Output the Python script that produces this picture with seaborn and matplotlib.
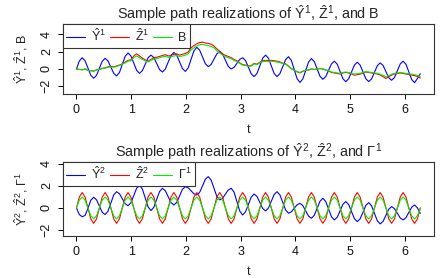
import numpy as np
import pandas as pd
import seaborn as sns
from matplotlib import pyplot as plt

# time grid: 121 points over [0, 2*pi]
t = np.linspace(0, 2 * np.pi, 121)

# top panel: Y-hat^1, Z-hat^1, B
y1_hat = [0.0, 0.92, 1.3, 0.95, 0.12, -0.72, -1.07, -0.73, 0.08, 0.89,
          1.23, 0.93, 0.22, -0.5, -0.8, -0.41, 0.53, 1.46, 1.85, 1.51,
          0.68, -0.16, -0.5, -0.19, 0.55, 1.29, 1.6, 1.32, 0.63, -0.07,
          -0.35, -0.02, 0.78, 1.57, 1.9, 1.58, 0.81, 0.04, -0.28, 0.13,
          1.11, 2.09, 2.5, 2.17, 1.39, 0.6, 0.27, 0.52, 1.14, 1.75,
          2.0, 1.71, 1.0, 0.29, 0.0, 0.19, 0.65, 1.11, 1.3, 0.98,
          0.21, -0.56, -0.88, -0.52, 0.36, 1.24, 1.6, 1.24, 0.36, -0.52,
          -0.88, -0.54, 0.27, 1.08, 1.42, 0.99, -0.07, -1.12, -1.55, -1.15,
          -0.18, 0.8, 1.2, 0.85, 0.0, -0.84, -1.19, -0.88, -0.15, 0.59,
          0.9, 0.56, -0.28, -1.12, -1.46, -1.13, -0.34, 0.45, 0.78, 0.45,
          -0.34, -1.13, -1.46, -1.14, -0.38, 0.38, 0.7, 0.41, -0.3, -1.01,
          -1.3, -0.98, -0.2, 0.58, 0.9, 0.54, -0.34, -1.22, -1.58, -1.1,
          -0.55]
z1_hat = [0.0, -0.05, -0.1, 0.02, -0.15, -0.2, -0.25, -0.1, -0.05, 0.08,
          0.12, 0.25, 0.3, 0.25, 0.35, 0.45, 0.6, 0.8, 1.0, 1.05,
          1.5, 1.75, 1.5, 1.25, 1.05, 0.9, 1.1, 1.3, 1.35, 1.45,
          1.55, 1.65, 1.5, 1.55, 1.7, 1.75, 1.6, 1.7, 1.8, 1.95,
          2.45, 2.7, 2.9, 3.05, 3.1, 3.0, 2.95, 2.85, 2.65, 2.3,
          2.05, 1.75, 1.55, 1.45, 1.3, 1.1, 0.95, 0.7, 0.5, 0.45,
          0.35, 0.4, 0.65, 0.55, 0.78, 0.95, 1.0, 0.95, 1.0, 0.95,
          0.9, 0.82, 0.66, 0.6, 0.33, 0.05, -0.18, -0.33, -0.45, -0.28,
          -0.17, -0.12, 0.0, -0.06, 0.0, 0.05, 0.0, -0.12, -0.23, -0.4,
          -0.46, -0.52, -0.58, -0.46, -0.4, -0.46, -0.58, -0.72, -0.65, -0.6,
          -0.46, -0.35, -0.4, -0.46, -0.52, -0.58, -0.7, -0.88, -1.1, -0.88,
          -0.7, -0.58, -0.52, -0.46, -0.52, -0.58, -0.64, -0.7, -0.76, -0.88,
          -1.05]
b_path = [0.0, -0.05, -0.1, 0.0, -0.15, -0.2, -0.25, -0.1, -0.05, 0.05,
          0.1, 0.2, 0.25, 0.2, 0.3, 0.4, 0.55, 0.7, 0.9, 0.95,
          1.3, 1.5, 1.3, 1.1, 0.95, 0.8, 1.0, 1.15, 1.2, 1.3,
          1.4, 1.45, 1.35, 1.4, 1.5, 1.55, 1.45, 1.5, 1.6, 1.75,
          2.2, 2.45, 2.65, 2.8, 2.85, 2.75, 2.7, 2.6, 2.45, 2.1,
          1.85, 1.6, 1.4, 1.3, 1.2, 1.0, 0.85, 0.65, 0.45, 0.4,
          0.3, 0.35, 0.6, 0.5, 0.7, 0.85, 0.9, 0.85, 0.9, 0.85,
          0.8, 0.75, 0.6, 0.55, 0.3, 0.05, -0.15, -0.3, -0.4, -0.25,
          -0.15, -0.1, 0.0, -0.05, 0.0, 0.05, 0.0, -0.1, -0.2, -0.35,
          -0.4, -0.45, -0.5, -0.4, -0.35, -0.4, -0.5, -0.6, -0.55, -0.5,
          -0.4, -0.3, -0.35, -0.4, -0.45, -0.5, -0.6, -0.75, -0.9, -0.75,
          -0.6, -0.5, -0.45, -0.4, -0.45, -0.5, -0.55, -0.6, -0.65, -0.75,
          -0.9]

# bottom panel: Y-hat^2, Z-hat^2, Gamma^1
y2_hat = [0.0, -0.6, -0.8, -0.68, -0.05, 0.7, 0.97, 0.74, 0.18, -0.4,
          -0.6, -0.3, 0.44, 1.18, 1.48, 1.29, 0.84, 0.39, 0.2, 0.47,
          1.13, 1.79, 2.06, 1.72, 0.91, 0.1, -0.24, 0.06, 0.78, 1.49,
          1.79, 1.57, 1.03, 0.49, 0.27, 0.51, 1.1, 1.7, 1.94, 1.83,
          1.56, 1.29, 1.18, 1.42, 2.01, 2.61, 2.85, 2.54, 1.79, 1.04,
          0.73, 0.88, 1.26, 1.64, 1.79, 1.44, 0.58, -0.29, -0.64, -0.36,
          0.32, 0.99, 1.27, 1.05, 0.5, -0.05, -0.27, -0.01, 0.61, 1.22,
          1.48, 1.19, 0.5, -0.19, -0.48, -0.35, -0.03, 0.29, 0.42, 0.22,
          -0.26, -0.74, -0.94, -0.67, -0.03, 0.61, 0.88, 0.59, -0.1, -0.8,
          -1.09, -0.85, -0.26, 0.34, 0.58, 0.31, -0.33, -0.97, -1.24, -0.99,
          -0.38, 0.23, 0.48, 0.2, -0.49, -1.17, -1.45, -1.22, -0.67, -0.11,
          0.12, -0.06, -0.49, -0.91, -1.09, -0.89, -0.41, 0.07, 0.27, 0.0,
          -0.5]
z2_hat = [0.0, 0.99, 1.4, 0.99, 0.0, -0.99, -1.4, -0.99,
          0.0, 0.99, 1.4, 0.99, 0.0, -0.99, -1.4, -0.99,
          0.0, 0.99, 1.4, 0.99, 0.0, -0.99, -1.4, -0.99,
          0.0, 0.99, 1.4, 0.99, 0.0, -0.99, -1.4, -0.99,
          0.0, 0.99, 1.4, 0.99, 0.0, -0.99, -1.4, -0.99,
          0.0, 0.99, 1.4, 0.99, 0.0, -0.99, -1.4, -0.99,
          0.0, 0.99, 1.4, 0.99, 0.0, -0.99, -1.4, -0.99,
          0.0, 0.99, 1.4, 0.99, 0.0, -0.99, -1.4, -0.99,
          0.0, 0.99, 1.4, 0.99, 0.0, -0.99, -1.4, -0.99,
          0.0, 0.99, 1.4, 0.99, 0.0, -0.99, -1.4, -0.99,
          0.0, 0.99, 1.4, 0.99, 0.0, -0.99, -1.4, -0.99,
          0.0, 0.99, 1.4, 0.99, 0.0, -0.99, -1.4, -0.99,
          0.0, 0.99, 1.4, 0.99, 0.0, -0.99, -1.4, -0.99,
          0.0, 0.99, 1.4, 0.99, 0.0, -0.99, -1.4, -0.99,
          0.0, 0.99, 1.4, 0.99, 0.0, -0.99, -1.4, -0.99,
          0.0]
gamma1 = [0.0, 0.71, 1.0, 0.71, 0.0, -0.71, -1.0, -0.71,
          0.0, 0.71, 1.0, 0.71, 0.0, -0.71, -1.0, -0.71,
          0.0, 0.71, 1.0, 0.71, 0.0, -0.71, -1.0, -0.71,
          0.0, 0.71, 1.0, 0.71, 0.0, -0.71, -1.0, -0.71,
          0.0, 0.71, 1.0, 0.71, 0.0, -0.71, -1.0, -0.71,
          0.0, 0.71, 1.0, 0.71, 0.0, -0.71, -1.0, -0.71,
          0.0, 0.71, 1.0, 0.71, 0.0, -0.71, -1.0, -0.71,
          0.0, 0.71, 1.0, 0.71, 0.0, -0.71, -1.0, -0.71,
          0.0, 0.71, 1.0, 0.71, 0.0, -0.71, -1.0, -0.71,
          0.0, 0.71, 1.0, 0.71, 0.0, -0.71, -1.0, -0.71,
          0.0, 0.71, 1.0, 0.71, 0.0, -0.71, -1.0, -0.71,
          0.0, 0.71, 1.0, 0.71, 0.0, -0.71, -1.0, -0.71,
          0.0, 0.71, 1.0, 0.71, 0.0, -0.71, -1.0, -0.71,
          0.0, 0.71, 1.0, 0.71, 0.0, -0.71, -1.0, -0.71,
          0.0, 0.71, 1.0, 0.71, 0.0, -0.71, -1.0, -0.71,
          0.0]

x_ticks = [0, 1, 2, 3, 4, 5, 6]
y_ticks = [-2, 0, 2, 4]

sns.set_theme(style="ticks")
plt.rcParams['font.family'] = ['Liberation Sans', 'DejaVu Sans']
plt.rcParams['mathtext.fontset'] = 'custom'
plt.rcParams['mathtext.rm'] = 'Liberation Sans'
plt.rcParams['mathtext.it'] = 'Liberation Sans'
plt.rcParams['mathtext.bf'] = 'Liberation Sans'

fig = plt.figure(figsize=(4.46, 2.78), dpi=100)
ax_top = fig.add_axes([0.1406, 0.6608, 0.8326, 0.2529])
ax_bot = fig.add_axes([0.1406, 0.1511, 0.8326, 0.2662])

panels = [
    (ax_top, [y1_hat, z1_hat, b_path],
     [r'$\hat{Y}^1$', r'$\hat{Z}^1$', 'B'],
     r'Sample path realizations of $\hat{Y}^1$, $\hat{Z}^1$, and B',
     r'$\hat{Y}^1$, $\hat{Z}^1$, B', (-2.92, 5.19)),
    (ax_bot, [y2_hat, z2_hat, gamma1],
     [r'$\hat{Y}^2$', r'$\hat{Z}^2$', r'$\Gamma^1$'],
     r'Sample path realizations of $\hat{Y}^2$, $\hat{Z}^2$, and $\Gamma^1$',
     r'$\hat{Y}^2$, $\hat{Z}^2$, $\Gamma^1$', (-2.55, 4.18)),
]
colors = ['#0000FF', '#FF0000', '#00EE00']
fs = 9.0

for ax, series, labels, title, ylab, ylim in panels:
    for vals, col, lab in zip(series, colors, labels):
        df = pd.DataFrame({'t': t, 'v': vals})
        sns.lineplot(data=df, x='t', y='v', color=col, lw=0.8, ax=ax, label=lab)
    ax.set_xlim(-0.2513, 6.5345)
    ax.set_ylim(*ylim)
    ax.set_xticks(x_ticks)
    ax.set_yticks(y_ticks)
    ax.tick_params(axis='both', direction='out', length=3.6, width=0.7,
                   color='black', labelsize=fs, labelcolor='#111111')
    ax.tick_params(axis='x', pad=3.5)
    ax.tick_params(axis='y', pad=3.5)
    for lbl in ax.get_yticklabels():
        lbl.set_rotation(90)
        lbl.set_va('center')
    for sp in ax.spines.values():
        sp.set_color('#333333')
        sp.set_linewidth(0.8)
    ax.set_xlabel('t', fontsize=fs, labelpad=6)
    ax.set_ylabel(ylab, fontsize=fs, labelpad=8)
    ax.set_title(title, fontsize=10.4, pad=3)
    leg = ax.legend(loc='upper left', ncol=3, borderaxespad=0, fontsize=fs,
                    frameon=True, fancybox=False, handlelength=1.5,
                    handletextpad=0.5, columnspacing=0.3, borderpad=0.3)
    leg.get_frame().set_edgecolor('#333333')
    leg.get_frame().set_linewidth(0.8)
    leg.get_frame().set_alpha(1)

fig.savefig('out.png', dpi=100)
